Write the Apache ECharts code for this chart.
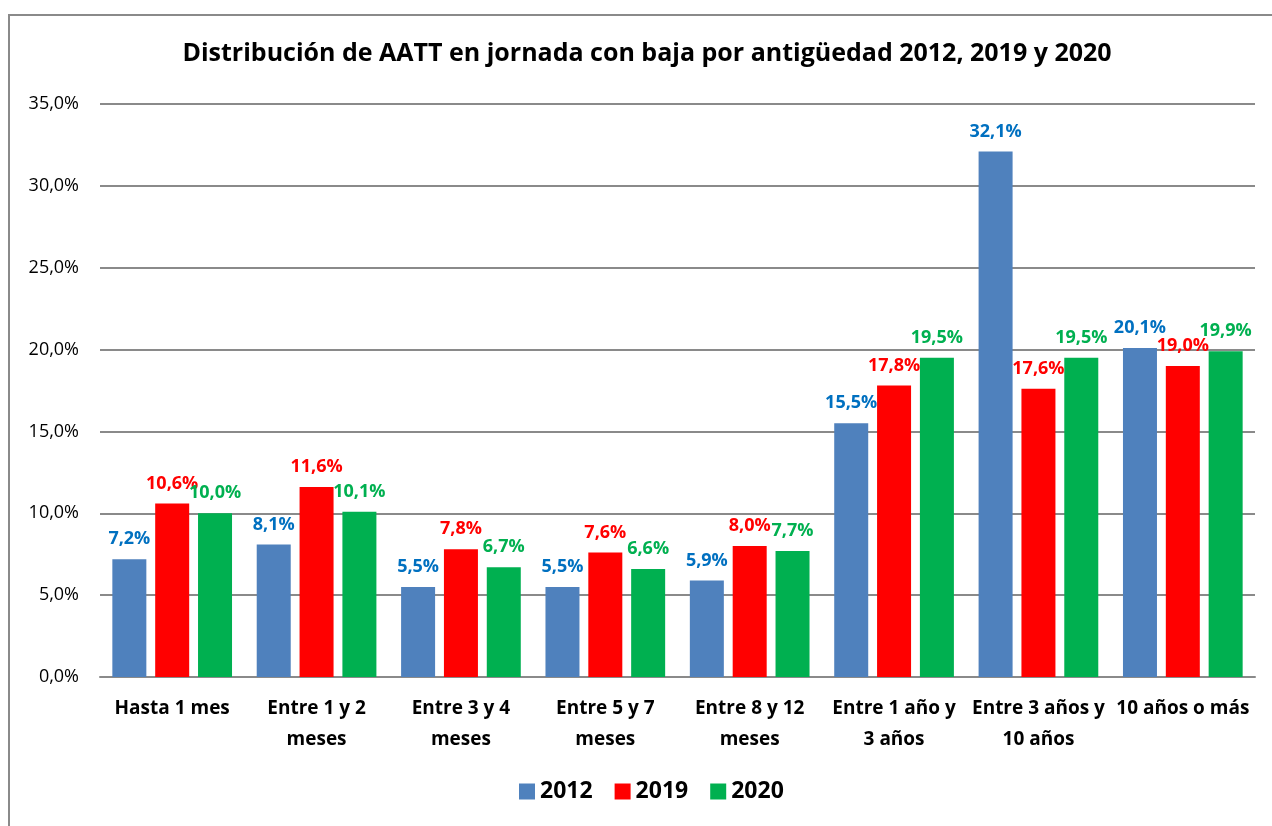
<!DOCTYPE html>
<html>
<head>
    <meta charset="utf-8">
    <title>ECharts</title>
    <script src="https://cdn.jsdelivr.net/npm/echarts@6/dist/echarts.min.js"></script>
    <style>body{margin:0;background:#fff;}</style>
</head>
<body>
<div id="main" style="width: 1272px;height:826px;"></div>
<script type="text/javascript">
    var myChart = echarts.init(document.getElementById('main'));

    var categories = ['Hasta 1 mes', 'Entre 1 y 2\nmeses', 'Entre 3 y 4\nmeses', 'Entre 5 y 7\nmeses',
        'Entre 8 y 12\nmeses', 'Entre 1 año y\n3 años', 'Entre 3 años y\n10 años', '10 años o más'];
    var years = ['2012', '2019', '2020'];
    var v2012 = [7.2, 8.1, 5.5, 5.5, 5.9, 15.5, 32.1, 20.1];
    var v2019 = [10.6, 11.6, 7.8, 7.6, 8.0, 17.8, 17.6, 19.0];
    var v2020 = [10.0, 10.1, 6.7, 6.6, 7.7, 19.5, 19.5, 19.9];
    var yTicks = [0, 5, 10, 15, 20, 25, 30, 35];

    var barColors = ['#4F81BD', '#FF0000', '#00B050'];
    var labelColors = ['#0070C0', '#FF0000', '#00B050'];
    var font = 'Open Sans';

    function fmt(v) {
        return v.toFixed(1).replace('.', ',') + '%';
    }

    function makeSeries(name, data, i) {
        return {
            name: name,
            type: 'bar',
            data: data,
            barWidth: 34,
            barGap: '26%',
            itemStyle: { color: barColors[i] },
            label: {
                show: true,
                position: 'top',
                distance: 11,
                color: labelColors[i],
                fontFamily: font,
                fontWeight: 'bold',
                fontSize: 18,
                formatter: function (p) { return fmt(p.value); }
            }
        };
    }

    var option = {
        backgroundColor: '#fff',
        graphic: [{
            type: 'rect',
            shape: { x: 9, y: 15, width: 1400, height: 1000 },
            style: { fill: 'none', stroke: '#8a8a8a', lineWidth: 2 }
        }],
        title: {
            text: 'Distribución de AATT en jornada con baja por antigüedad 2012, 2019 y 2020',
            left: 642,
            textAlign: 'center',
            top: 36,
            textStyle: {
                color: '#000',
                fontFamily: font,
                fontWeight: 'bold',
                fontSize: 25
            }
        },
        legend: {
            bottom: 18,
            left: 514,
            itemWidth: 16,
            itemHeight: 16,
            itemGap: 22,
            icon: 'rect',
            textStyle: { fontFamily: font, fontWeight: 'bold', fontSize: 23, color: '#000' },
            data: years
        },
        grid: {
            left: 100,
            right: 17,
            top: 104,
            bottom: 149,
            containLabel: false
        },
        xAxis: {
            type: 'category',
            data: categories,
            axisTick: { show: false },
            axisLine: { show: true, lineStyle: { color: '#8a8a8a', width: 2 } },
            axisLabel: {
                interval: 0,
                margin: 16,
                color: '#000',
                fontFamily: font,
                fontWeight: 'bold',
                fontSize: 19,
                lineHeight: 31
            }
        },
        yAxis: {
            type: 'value',
            min: yTicks[0],
            max: yTicks[yTicks.length - 1],
            interval: 5,
            axisLine: { show: false },
            axisTick: { show: false },
            splitLine: { lineStyle: { color: '#8a8a8a', width: 2 } },
            axisLabel: {
                margin: 21,
                color: '#000',
                fontFamily: font,
                fontSize: 18,
                formatter: function (v) { return fmt(v); }
            }
        },
        series: [
            makeSeries(years[0], v2012, 0),
            makeSeries(years[1], v2019, 1),
            makeSeries(years[2], v2020, 2)
        ]
    };

    myChart.setOption(option);
</script>
</body>
</html>
